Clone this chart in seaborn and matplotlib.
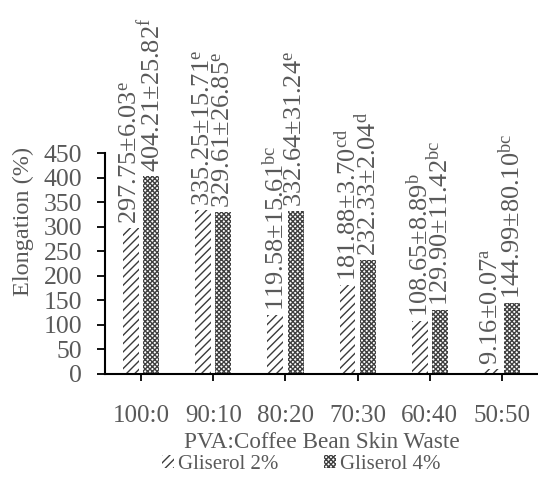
import matplotlib
matplotlib.use("Agg")
import matplotlib.pyplot as plt
import numpy as np
import pandas as pd
import seaborn as sns

# data
ratios = ["100:0", "90:10", "80:20", "70:30", "60:40", "50:50"]
groups = ["Gliserol 2%", "Gliserol 4%"]
gl2 = [297.75, 335.25, 119.58, 181.88, 108.65, 9.16]
gl2_sd = [6.03, 15.71, 15.61, 3.70, 8.89, 0.07]
gl2_sig = ["e", "e", "bc", "cd", "b", "a"]
gl4 = [404.21, 329.61, 332.64, 232.33, 129.90, 144.99]
gl4_sd = [25.82, 26.85, 31.24, 2.04, 11.42, 80.10]
gl4_sig = ["f", "e", "e", "d", "bc", "bc"]
y_ticks = list(range(0, 451, 50))

TXT = "#595959"
sns.set_style("white")
plt.rcParams.update({
    "font.family": ["Liberation Serif", "DejaVu Serif"],
    "mathtext.fontset": "custom",
    "mathtext.rm": "Liberation Serif",
    "mathtext.it": "Liberation Serif:italic",
    "hatch.linewidth": 1.0,
})

df = pd.DataFrame({
    "ratio": ratios * 2,
    "group": [groups[0]] * len(ratios) + [groups[1]] * len(ratios),
    "value": gl2 + gl4,
})

fig = plt.figure(figsize=(5.38, 4.86), dpi=100)
ax = fig.add_axes([0.1952, 0.2305, 0.8048, 0.4537])

sns.barplot(data=df, x="ratio", y="value", hue="group", order=ratios,
            hue_order=groups, errorbar=None, width=0.56, gap=0.21,
            palette=["white", "white"], ax=ax, legend=False)

styles = [("////", "#3a3a3a"), ("xxxxxxx", "#404040")]
for cont, (hatch, col) in zip(ax.containers, styles):
    for bar in cont:
        bar.set_hatch(hatch)
        bar.set_edgecolor(col)
        bar.set_facecolor("white")
        bar.set_linewidth(0)

# value labels above bars
labels = [
    [f"{v:.2f}±{s:.2f}$^{{\\mathrm{{{g}}}}}$" for v, s, g in zip(gl2, gl2_sd, gl2_sig)],
    [f"{v:.2f}±{s:.2f}$^{{\\mathrm{{{g}}}}}$" for v, s, g in zip(gl4, gl4_sd, gl4_sig)],
]
for cont, labs in zip(ax.containers, labels):
    for bar, lab in zip(cont, labs):
        ax.annotate(lab, (bar.get_x() + bar.get_width() / 2, bar.get_height()),
                    xytext=(0, 3), textcoords="offset points", rotation=90,
                    ha="center", va="bottom", fontsize=19, color=TXT,
                    annotation_clip=False)

ax.set_xlim(-0.5, 5.5)
ax.set_ylim(0, 450)
ax.set_yticks(y_ticks)
ax.tick_params(axis="y", direction="out", length=5.5, width=1.3, color="black",
               labelsize=18.5, labelcolor=TXT, pad=11, left=True)
ax.tick_params(axis="x", direction="out", length=5, width=1.3, color="black",
               labelsize=18, labelcolor=TXT, pad=17, bottom=True)
for side in ["top", "right"]:
    ax.spines[side].set_visible(False)
for side in ["left", "bottom"]:
    ax.spines[side].set_color("black")
    ax.spines[side].set_linewidth(1.5)

ax.set_xlabel("PVA:Coffee Bean Skin Waste", fontsize=16.7, color=TXT, labelpad=4)
ax.set_ylabel("Elongation (%)", fontsize=17.5, color=TXT)
ax.yaxis.set_label_coords(-0.163, 0.69)

handles = [plt.Rectangle((0, 0), 1, 1, facecolor="white", edgecolor=c,
                         hatch=h, linewidth=0) for h, c in styles]
fig.legend(handles, groups, loc="center", bbox_to_anchor=(0.56, 0.045), ncol=2,
           frameon=False, fontsize=15, labelcolor=TXT, handlelength=0.55,
           handleheight=0.55, handletextpad=0.2, columnspacing=2.2)

fig.savefig("out.png", dpi=100)
